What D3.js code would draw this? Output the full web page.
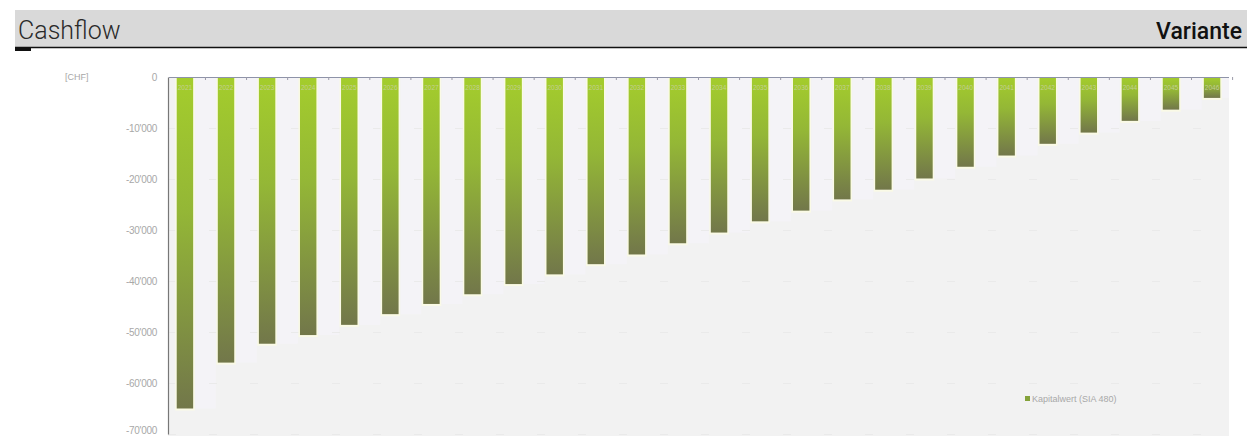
<!DOCTYPE html>
<html>
<head>
<meta charset="utf-8">
<script src="https://cdn.jsdelivr.net/npm/d3@7"></script>
<style>
  html, body { margin: 0; padding: 0; background: #ffffff; }
  svg { display: block; }
</style>
</head>
<body>
<svg id="chart" width="1247" height="436"></svg>
<script>
// ---- data ----
const years = ["2021","2022","2023","2024","2025","2026","2027","2028","2029","2030","2031","2032","2033",
               "2034","2035","2036","2037","2038","2039","2040","2041","2042","2043","2044","2045","2046"];
const kapitalwert = [-65000, -56000, -52300, -50600, -48600, -46500, -44500, -42600, -40600, -38700,
                     -36700, -34800, -32600, -30500, -28300, -26200, -24000, -22100, -19900, -17600,
                     -15400, -13100, -10900, -8600, -6400, -4100];
const yTicks = [0, -10000, -20000, -30000, -40000, -50000, -60000, -70000];
const seriesName = "Kapitalwert (SIA 480)";
const titleLeft = "Cashflow";
const titleRight = "Variante";
const unitLabel = "[CHF]";

// ---- layout ----
const svg = d3.select("#chart");
const plot = { left: 168, right: 1229, top: 77, bottom: 436 };

// header
svg.append("rect").attr("x", 15).attr("y", 10).attr("width", 1232).attr("height", 37).attr("fill", "#d9d9d9");
svg.append("line").attr("x1", 15).attr("x2", 1247).attr("y1", 47.5).attr("y2", 47.5)
   .attr("stroke", "#111").attr("stroke-width", 1.3);
svg.append("rect").attr("x", 15).attr("y", 47).attr("width", 16).attr("height", 4).attr("fill", "#111");
svg.append("text").attr("x", 18).attr("y", 39).text(titleLeft)
   .attr("font-family", "Roboto, 'Liberation Sans', sans-serif").attr("font-weight", 300)
   .attr("font-size", 25).attr("fill", "#2a2a2a");
svg.append("text").attr("x", 1242).attr("y", 39).attr("text-anchor", "end").text(titleRight)
   .attr("font-family", "Roboto, 'Liberation Sans', sans-serif").attr("font-weight", 500)
   .attr("font-size", 23).attr("fill", "#111");

// scales
const x = d3.scaleBand().domain(years).range([plot.left + 0.5, plot.right - 0.5]).paddingInner(0.6).paddingOuter(0.2);
const y = d3.scaleLinear().domain([0, -70000]).range([plot.top, plot.top + 357]);

// plot background
svg.append("rect").attr("x", plot.left).attr("y", plot.top).attr("width", plot.right - plot.left)
   .attr("height", plot.bottom - plot.top).attr("fill", "#f2f2f2");

// very light bands beside bars (upper area)
const step = x.step();
svg.append("g").selectAll("rect").data(years).join("rect")
   .attr("x", d => x(d) + x.bandwidth() + 2)
   .attr("y", plot.top)
   .attr("width", d => Math.min(step - x.bandwidth() - 4, plot.right - (x(d) + x.bandwidth() + 2)))
   .attr("height", (d, i) => Math.max(0, y(kapitalwert[i]) - plot.top))
   .attr("fill", "#f4f3f7");

// horizontal grid (faint)
svg.append("g").selectAll("line").data(yTicks.slice(1)).join("line")
   .attr("x1", plot.left).attr("x2", plot.right)
   .attr("y1", d => y(d) + 0.5).attr("y2", d => y(d) + 0.5)
   .attr("stroke", "#eaeaea").attr("stroke-width", 1).attr("stroke-dasharray", "8,33");

// gradient
const defs = svg.append("defs");
const grad = defs.append("linearGradient").attr("id", "barGrad")
   .attr("x1", 0).attr("y1", 0).attr("x2", 0).attr("y2", 1);
grad.append("stop").attr("offset", "0%").attr("stop-color", "#a4cd2c");
grad.append("stop").attr("offset", "40%").attr("stop-color", "#94b736");
grad.append("stop").attr("offset", "100%").attr("stop-color", "#72774a");

// bar halo
svg.append("g").selectAll("rect").data(years).join("rect")
   .attr("x", d => x(d) - 1.5)
   .attr("y", y(0))
   .attr("width", x.bandwidth() + 3)
   .attr("height", (d, i) => y(kapitalwert[i]) - y(0) + 2)
   .attr("fill", "#fafae6");

// bars
svg.append("g").selectAll("rect").data(years).join("rect")
   .attr("x", d => x(d))
   .attr("y", y(0))
   .attr("width", x.bandwidth())
   .attr("height", (d, i) => y(kapitalwert[i]) - y(0))
   .attr("fill", "url(#barGrad)");

// top axis (category axis at zero)
const xAxis = svg.append("g").attr("transform", `translate(0,${y(0)})`)
   .call(d3.axisTop(x).tickSize(0).tickFormat(""));
xAxis.select(".domain").attr("stroke", "#8e93a8").attr("stroke-width", 1);
svg.append("g").selectAll("line").data(years).join("line")
   .attr("x1", d => x(d) + x.bandwidth() + (step - x.bandwidth()) / 2)
   .attr("x2", d => x(d) + x.bandwidth() + (step - x.bandwidth()) / 2)
   .attr("y1", y(0)).attr("y2", y(0) + 3)
   .attr("stroke", "#9a9aa8").attr("stroke-width", 1);

// year labels at top of bars
svg.append("g").selectAll("text").data(years).join("text")
   .attr("x", d => x(d) + x.bandwidth() / 2)
   .attr("y", y(0) + 13)
   .attr("text-anchor", "middle")
   .attr("font-family", "'Liberation Sans', sans-serif").attr("font-size", 6.5)
   .attr("fill", "#c3cf92")
   .text(d => d);

// y axis
const fmt = v => {
  if (v === 0) return "0";
  const s = d3.format(",")(v);
  return s.replace(/,/g, "'").replace("−", "-");
};
const yAxis = svg.append("g").attr("transform", `translate(${plot.left},0)`)
   .call(d3.axisLeft(y).tickValues(yTicks).tickSize(0).tickPadding(11).tickFormat(fmt));
yAxis.select(".domain").attr("stroke", "#777").attr("stroke-width", 1.2);
yAxis.selectAll("text").attr("font-family", "'Liberation Sans', sans-serif").attr("font-size", 10)
   .attr("fill", "#a8a8a8").attr("letter-spacing", -0.3);
// keep the lowest label inside the picture
yAxis.selectAll(".tick").filter(d => d === -70000).select("text").attr("dy", "-0.1em");

// unit label
svg.append("text").attr("x", 65).attr("y", y(0) + 3).text(unitLabel)
   .attr("font-family", "'Liberation Sans', sans-serif").attr("font-size", 9).attr("fill", "#a8a8a8");

// legend
const lg = svg.append("g").attr("transform", "translate(1025,400)");
lg.append("rect").attr("x", 0).attr("y", -4).attr("width", 5).attr("height", 5).attr("fill", "#84a23a");
lg.append("text").attr("x", 7).attr("y", 1.5).text(seriesName)
   .attr("font-family", "'Liberation Sans', sans-serif").attr("font-size", 9).attr("fill", "#a8a8a8");
</script>
</body>
</html>
